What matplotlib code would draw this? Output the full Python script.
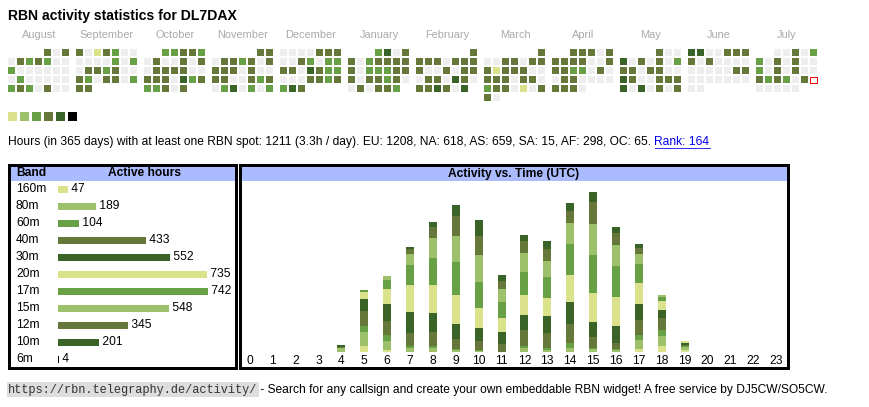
import datetime
import matplotlib
matplotlib.use("Agg")
import matplotlib.pyplot as plt
from matplotlib.patches import Rectangle
import numpy as np

W, H = 870, 407
plt.rcParams['font.family'] = ['Liberation Sans', 'DejaVu Sans']

# ---------------- data ----------------
title = "RBN activity statistics for DL7DAX"
month_labels = ["August", "September", "October", "November", "December", "January",
                "February", "March", "April", "May", "June", "July"]
month_starts = [(2024, 8), (2024, 9), (2024, 10), (2024, 11), (2024, 12), (2025, 1),
                (2025, 2), (2025, 3), (2025, 4), (2025, 5), (2025, 6), (2025, 7)]
# activity level per day (0 = none, 1..6 = legend colours, -1 = today)
lv_aug = [4,0,4, 0,4,3,4,3,0,0, 3,0,0,0,0,0,0, 0,3,0,0,0,0,0, 3,4,3,0,4,0,0]
lv_sep = [4,0,1,4,3,0,0, 0,0,0,0,3,0,3, 0,4,4,3,4,0,0, 4,3,0,4,4,0,3, 4,4]
lv_oct = [3,3,4,4,3, 0,4,0,0,4,0,4, 0,4,4,4,4,0,0, 4,4,4,0,5,3,4, 3,3,4,0,4]
lv_nov = [4,4, 0,4,4,3,4,0,4, 4,4,4,0,4,0,0, 4,4,0,0,4,3,4, 0,3,5,0,3,0,3]
lv_dec = [0,0,0,0,4,4,4, 0,0,4,3,0,3,3, 4,4,0,5,4,3,3, 0,0,0,4,4,3,4, 3,5,4]
lv_jan = [3,5,0,4, 4,0,3,4,4,4,4, 4,0,3,3,3,4,4, 4,0,4,4,3,4,0, 0,4,0,4,4,3]
lv_feb = [4, 4,4,4,0,4,4,4, 4,0,0,4,0,4,4, 0,4,4,0,5,4,0, 4,4,5,4,0,5]
lv_mar = [4, 0,0,4,4,0,4,4, 4,1,4,4,4,0,0, 4,4,4,0,4,4,0, 3,4,4,0,1,0,4, 4,0]
lv_apr = [4,4,4,0,4, 4,4,4,4,0,0,4, 4,4,3,3,0,4,0, 0,4,4,0,0,0,0, 4,4,4,0]
lv_may = [4,0,0, 5,0,4,0,4,0,3, 4,4,0,4,4,0,0, 5,4,0,0,4,4,4, 5,0,5,0,4,0,4]
lv_jun = [5,5,0,0,4,4,4, 4,0,4,0,0,0,0, 0,0,0,0,0,4,4, 0,0,0,0,0,0,0, 0,0]
lv_jul = [0,0,4,0,3, 3,0,4,0,4,0,0, 3,0,4,0,4,0,0, 4,3,4,3,0,4,-1, 0,0,0,0,0]
month_levels = [lv_aug, lv_sep, lv_oct, lv_nov, lv_dec, lv_jan,
                lv_feb, lv_mar, lv_apr, lv_may, lv_jun, lv_jul]

summary_text = ("Hours (in 365 days) with at least one RBN spot: 1211 (3.3h / day). "
                "EU: 1208, NA: 618, AS: 659, SA: 15, AF: 298, OC: 65. ")
rank_text = "Rank: 164"

bands = ["160m", "80m", "60m", "40m", "30m", "20m", "17m", "15m", "12m", "10m", "6m"]
band_hours = [47, 189, 104, 433, 552, 735, 742, 548, 345, 201, 4]

hours = list(range(24))
h_160 = [0,0,0,0,0,15,6,0,0,0,0,0,0,0,0,0,0,7,15,4,0,0,0,0]
h_80  = [0,0,0,0,9,35,22,10,10,5,3,0,11,5,11,8,5,22,25,8,0,0,0,0]
h_60  = [0,0,0,0,0,14,14,6,6,3,3,0,5,5,11,3,3,14,14,3,0,0,0,0]
h_40  = [0,0,0,0,3,38,35,30,33,23,20,20,38,38,48,25,15,35,30,2,0,0,0,0]
h_30  = [0,0,0,0,5,28,43,53,47,38,33,30,38,40,53,38,41,40,20,5,0,0,0,0]
h_20  = [0,0,0,0,0,18,37,68,71,72,51,33,50,45,68,71,71,52,23,5,0,0,0,0]
h_17  = [0,0,0,0,0,5,22,48,66,83,63,42,56,53,76,95,78,47,8,0,0,0,0,0]
h_15  = [0,0,0,0,0,0,10,28,49,63,66,30,48,40,53,78,52,25,6,0,0,0,0,0]
h_12  = [0,0,0,0,0,0,0,13,28,49,48,20,28,30,30,54,30,15,0,0,0,0,0,0]
h_10  = [0,0,0,0,0,0,0,5,13,29,39,15,15,18,18,24,15,10,0,0,0,0,0,0]
h_6   = [0]*24
hourly = [h_160, h_80, h_60, h_40, h_30, h_20, h_17, h_15, h_12, h_10, h_6]

footer_link = "https://rbn.telegraphy.de/activity/"
footer_text = " - Search for any callsign and create your own embeddable RBN widget! A free service by DJ5CW/SO5CW."

# ---------------- style ----------------
level_colors = {0: '#eeeeee', 1: '#dbe28c', 2: '#9dc06a', 3: '#68a046',
                4: '#65783a', 5: '#3a6427', 6: '#000000', -1: '#ffffff'}
band_colors = ['#dbe28c', '#9dc06a', '#68a046', '#65783a', '#3a6427',
               '#dbe28c', '#68a046', '#9dc06a', '#65783a', '#3a6427', '#000000']
header_blue = '#aabbff'

fig = plt.figure(figsize=(W / 100, H / 100), dpi=100)
ax0 = fig.add_axes([0, 0, 1, 1])
ax0.set_xlim(0, W)
ax0.set_ylim(H, 0)
ax0.axis('off')

def px_axes(x0, y0, x1, y1):
    return fig.add_axes([x0 / W, 1 - y1 / H, (x1 - x0) / W, (y1 - y0) / H])

PT = 72 / 100  # px -> pt
BODY = 12 * PT

# title
ax0.text(8, 16, title, fontsize=14 * PT, fontweight='bold', va='center', ha='left')

# calendar
cell, pitch, mpitch, cx0, cy0 = 7.2, 9, 68, 8, 49
for m, (lab, (yy, mm), lv) in enumerate(zip(month_labels, month_starts, month_levels)):
    base = cx0 + m * mpitch
    ax0.text(base + 31, 35, lab, fontsize=11 * PT, color='#aaaaaa', ha='center', va='center')
    off = (datetime.date(yy, mm, 1).weekday() + 1) % 7
    for d, v in enumerate(lv):
        k = d + off
        r, c = divmod(k, 7)
        x = base + c * pitch
        y = cy0 + r * pitch
        if v == -1:
            ax0.add_patch(Rectangle((x + 0.5, y + 0.5), cell - 1, cell - 1, facecolor='white',
                                    edgecolor='red', linewidth=1 * PT))
        else:
            ax0.add_patch(Rectangle((x, y), cell, cell, facecolor=level_colors[v], edgecolor='none'))

# legend squares
for i in range(6):
    ax0.add_patch(Rectangle((8 + i * 12, 112), 9.5, 9, facecolor=level_colors[i + 1], edgecolor='none'))

# summary line
t1 = ax0.text(8, 142, summary_text, fontsize=BODY, va='center', ha='left')
fig.canvas.draw()
bb = t1.get_window_extent()
inv = ax0.transData.inverted()
x_end = inv.transform((bb.x1, bb.y0))[0]
t2 = ax0.text(x_end, 142, rank_text, fontsize=BODY, va='center', ha='left', color='#0000ee')
fig.canvas.draw()
bb2 = t2.get_window_extent()
(xa, ya), (xb, yb) = inv.transform((bb2.x0, bb2.y0)), inv.transform((bb2.x1, bb2.y0))
ax0.plot([xa, xb], [147.5, 147.5], color='#0000ee', lw=0.8 * PT)

# boxes and headers
ax0.add_patch(Rectangle((10, 166), 226, 15, facecolor=header_blue, edgecolor='none'))
ax0.add_patch(Rectangle((241, 166), 546, 15, facecolor=header_blue, edgecolor='none'))
ax0.add_patch(Rectangle((9.5, 164.5), 227, 203, facecolor='none', edgecolor='black', lw=3 * PT))
ax0.add_patch(Rectangle((240, 164.5), 548.5, 203, facecolor='none', edgecolor='black', lw=3 * PT))
ax0.text(16, 173.5, "Band", fontsize=BODY, fontweight='bold', va='center', ha='left')
ax0.text(145, 173.5, "Active hours", fontsize=BODY, fontweight='bold', va='center', ha='center')
ax0.text(514, 173.5, "Activity vs. Time (UTC)", fontsize=BODY, fontweight='bold',
         va='center', ha='center')

# band table (horizontal bars)
axb = px_axes(58, 180.5, 208, 367.5)
ypos = np.arange(len(bands))
axb.barh(ypos, band_hours, height=7 / 17, color=band_colors, edgecolor='none')
axb.set_xlim(0, max(band_hours))
axb.set_ylim(len(bands) - 0.5, -0.5)
axb.axis('off')
for i, (b, v) in enumerate(zip(bands, band_hours)):
    axb.text(v, i, " " + str(v), fontsize=BODY, va='center', ha='left', clip_on=False)
    ax0.text(16, 180.5 + 17 * i + 8.5, b, fontsize=BODY, va='center', ha='left')

# activity vs time (stacked bars)
axs = px_axes(241, 181, 787, 352)
px_per_h = 22.87
axs.set_xlim((241 - 250) / px_per_h, (787 - 250) / px_per_h)
axs.set_ylim(0, 171 / 0.404)
bottom = np.zeros(24)
for vals, col in zip(hourly, band_colors):
    vals = np.array(vals, dtype=float)
    axs.bar(hours, vals, bottom=bottom, width=8 / px_per_h, color=col, edgecolor='none')
    bottom += vals
axs.axis('off')
for h in hours:
    ax0.text(250 + px_per_h * h, 361, str(h), fontsize=BODY, va='center', ha='center')

# footer
t3 = ax0.text(8, 389.5, footer_link, fontsize=11.9 * PT, family='Liberation Mono',
              va='center', ha='left', color='#333333',
              bbox=dict(boxstyle='square,pad=0.1', facecolor='#dddddd', edgecolor='none'))
fig.canvas.draw()
bb3 = t3.get_window_extent()
x_end3 = inv.transform((bb3.x1, bb3.y0))[0]
ax0.text(x_end3, 389.5, footer_text, fontsize=BODY, va='center', ha='left')

fig.savefig("out.png", dpi=100)
